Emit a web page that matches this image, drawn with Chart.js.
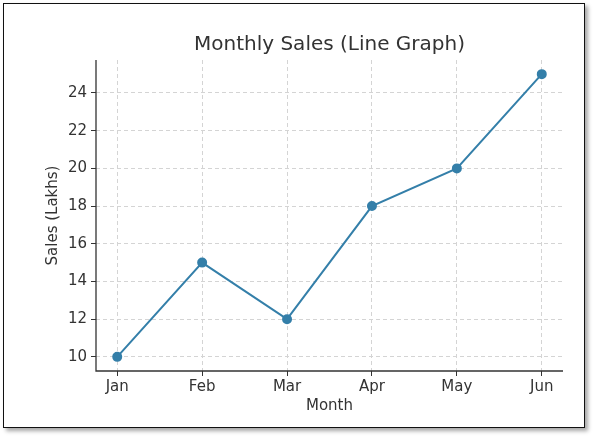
<!DOCTYPE html>
<html>
<head>
<meta charset="utf-8">
<script src="https://cdn.jsdelivr.net/npm/chart.js@4"></script>
<style>
  html, body { margin: 0; padding: 0; background: #fff; }
  #frame { position: absolute; left: 3px; top: 3px; width: 580px; height: 423px;
           border: 1.5px solid #111; box-shadow: 3px 3px 4px rgba(0,0,0,0.35); background: #fff; }
  #wrap { position: absolute; left: 0; top: 0; width: 595px; height: 439px; }
</style>
</head>
<body>
<div id="frame"></div>
<div id="wrap"><canvas id="chart"></canvas></div>
<script>
const months = ["Jan", "Feb", "Mar", "Apr", "May", "Jun"];
const sales = [10, 15, 12, 18, 20, 25];
const yTicks = [10, 12, 14, 16, 18, 20, 22, 24];

const FONT = "'DejaVu Sans', sans-serif";

// title centred over the plot area + solid left/bottom spines
const framePlugin = {
  id: 'plotFrame',
  afterDraw(chart) {
    const { ctx, chartArea } = chart;
    ctx.save();
    ctx.font = "20px " + FONT;
    ctx.fillStyle = '#333';
    ctx.textAlign = 'center';
    ctx.textBaseline = 'middle';
    ctx.fillText('Monthly Sales (Line Graph)', (chartArea.left + chartArea.right) / 2, 45);
    ctx.setLineDash([]);
    ctx.strokeStyle = '#333';
    ctx.lineWidth = 1.3;
    ctx.beginPath();
    ctx.moveTo(chartArea.left, chartArea.top);
    ctx.lineTo(chartArea.left, chartArea.bottom);
    ctx.lineTo(chartArea.right, chartArea.bottom);
    ctx.stroke();
    ctx.restore();
  }
};

const gridOpts = { color: '#d4d4d4', tickColor: '#333', tickLength: 5, tickBorderDash: [] };
const borderOpts = { display: false, dash: [4, 3] };

new Chart(document.getElementById('chart'), {
  type: 'line',
  data: {
    datasets: [{
      data: sales.map((v, i) => ({ x: i, y: v })),
      borderColor: '#347fa9',
      backgroundColor: '#347fa9',
      borderWidth: 2,
      pointRadius: 4,
      pointHoverRadius: 4,
      tension: 0
    }]
  },
  options: {
    responsive: true,
    maintainAspectRatio: false,
    animation: false,
    layout: { padding: { top: 60, right: 32, left: 44, bottom: 24 } },
    plugins: { legend: { display: false }, tooltip: { enabled: false } },
    scales: {
      x: {
        type: 'linear',
        min: -0.25, max: 5.25,
        afterBuildTicks(scale) { scale.ticks = months.map((m, i) => ({ value: i })); },
        afterFit(scale) { scale.height = 44; },
        ticks: {
          callback: v => months[v],
          color: '#333', font: { family: FONT, size: 15 }, padding: 2
        },
        grid: gridOpts,
        border: borderOpts,
        title: { display: true, text: 'Month', color: '#333', font: { family: FONT, size: 15 }, padding: 0 }
      },
      y: {
        min: 9.25, max: 25.75,
        afterBuildTicks(scale) { scale.ticks = yTicks.map(v => ({ value: v })); },
        afterFit(scale) { scale.width = 52; },
        ticks: { color: '#333', font: { family: FONT, size: 15 }, padding: 4 },
        grid: gridOpts,
        border: borderOpts,
        title: { display: true, text: 'Sales (Lakhs)', color: '#333', font: { family: FONT, size: 15 }, padding: 0 }
      }
    }
  },
  plugins: [framePlugin]
});
</script>
</body>
</html>
